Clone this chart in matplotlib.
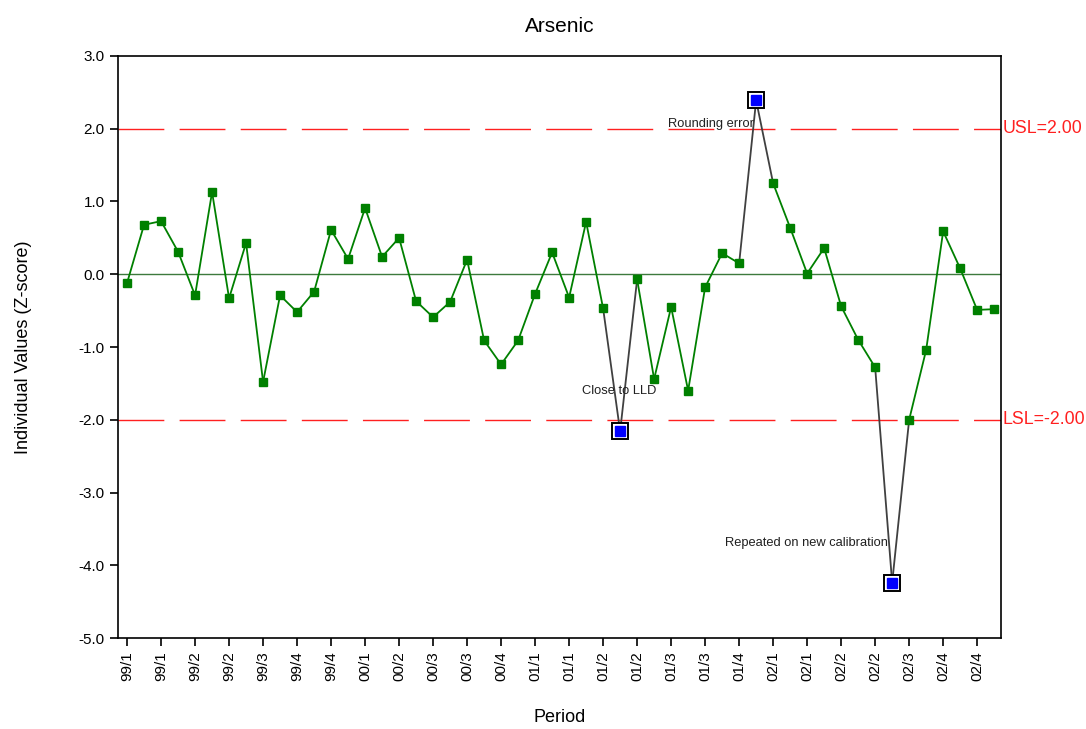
import matplotlib
matplotlib.use("Agg")
import matplotlib.pyplot as plt

plt.rcParams['font.family'] = ['Liberation Sans', 'DejaVu Sans']

# z-scores per period
z_values = [
    -0.12, 0.68, 0.73, 0.31, -0.29, 1.13, -0.33, 0.43, -1.48, -0.29,
    -0.52, -0.24, 0.61, 0.21, 0.91, 0.24, 0.50, -0.37, -0.59, -0.38,
    0.20, -0.91, -1.24, -0.91, -0.27, 0.30, -0.32, 0.72, -0.47, -2.16,
    -0.07, -1.44, -0.45, -1.60, -0.18, 0.29, 0.15, 2.39, 1.25, 0.64,
    0.01, 0.36, -0.44, -0.90, -1.28, -4.24, -2.00, -1.04, 0.59, 0.08,
    -0.49, -0.48,
]
outliers = [29, 37, 45]
tick_labels = [
    '99/1', '99/1', '99/2', '99/2', '99/3', '99/4', '99/4', '00/1', '00/2',
    '00/3', '00/3', '00/4', '01/1', '01/1', '01/2', '01/2', '01/3', '01/3',
    '01/4', '02/1', '02/1', '02/2', '02/2', '02/3', '02/4', '02/4',
]
usl, lsl = 2.0, -2.0
notes = [(37, 'Rounding error', -2.65, -0.33),
         (29, 'Close to LLD', -0.06, 0.555),
         (45, 'Repeated on new calibration', -5.06, 0.55)]

fig = plt.figure(figsize=(10.86, 7.29), dpi=100)
ax = fig.add_axes([0.1087, 0.1248, 0.8130, 0.7984])

x = list(range(len(z_values)))

# center line
ax.axhline(0, color='#3d7a3d', lw=1, zorder=1)
# spec limits
for lim in (usl, lsl):
    ax.axhline(lim, color='#ff2020', lw=1, dashes=(33, 11), zorder=1)

# connecting segments; those touching outliers are grey
for i in range(len(z_values) - 1):
    c = '#404040' if (i in outliers or i + 1 in outliers) else 'green'
    ax.plot(x[i:i + 2], z_values[i:i + 2], color=c, lw=1.3, zorder=2)

normal = [i for i in x if i not in outliers]
ax.plot(normal, [z_values[i] for i in normal], 's', color='green',
        markersize=5.5, zorder=3, linestyle='none')
ax.plot(outliers, [z_values[i] for i in outliers], 's', markerfacecolor='white',
        markeredgecolor='black', markeredgewidth=1.4, markersize=11.5,
        zorder=4, linestyle='none')
ax.plot(outliers, [z_values[i] for i in outliers], 's', color='#0000ff',
        markersize=7, zorder=5, linestyle='none')

for idx, txt, dx, dy in notes:
    ax.text(idx + dx, z_values[idx] + dy, txt, fontsize=9.3, ha='center',
            va='center', color='#202020', zorder=6)

ax.text(1.002, (usl + 5) / 8, 'USL=2.00', transform=ax.transAxes,
        color='#ff2020', fontsize=12.8, va='center', ha='left')
ax.text(1.002, (lsl + 5) / 8, 'LSL=-2.00', transform=ax.transAxes,
        color='#ff2020', fontsize=12.8, va='center', ha='left')

ax.set_xlim(-0.53, 51.4)
ax.set_ylim(-5, 3)
ax.set_yticks([3, 2, 1, 0, -1, -2, -3, -4, -5])
ax.set_yticklabels(['%.1f' % v for v in [3, 2, 1, 0, -1, -2, -3, -4, -5]],
                   fontsize=11)
ax.set_xticks(x[::2])
ax.set_xticklabels(tick_labels, rotation=90, fontsize=11)
ax.tick_params(direction='out', length=6, width=1.2)

for s in ax.spines.values():
    s.set_linewidth(1.2)

ax.set_title('Arsenic', fontsize=15, pad=17)
ax.set_ylabel('Individual Values (Z-score)', fontsize=13, labelpad=34)
ax.set_xlabel('Period', fontsize=13, labelpad=20)

fig.savefig('out.png', dpi=100)
